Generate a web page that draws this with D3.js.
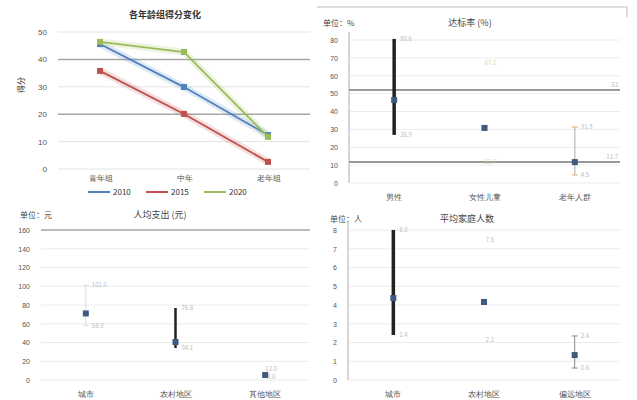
<!DOCTYPE html>
<html>
<head>
<meta charset="utf-8">
<script src="https://cdn.jsdelivr.net/npm/d3@7"></script>
<style>
  body { margin: 0; background: #fff; }
  svg { font-family: "Noto Sans CJK SC", "Noto Sans", sans-serif; }
  .tick text { fill: #555; }
</style>
</head>
<body>
<svg id="chart" width="637" height="400"></svg>
<script>
// ---- 数据 ----
// 图1：三条折线
const ageGroups = ["青年组", "中年", "老年组"];
const lineYears = ["2010", "2015", "2020"];
const line2010 = [45.6, 29.9, 12.4];
const line2015 = [35.8, 20.1, 2.6];
const line2020 = [46.4, 42.7, 11.7];
const lineTicks = [0, 10, 20, 30, 40, 50];

// 图2：达标率 (%)
const rateCats = ["男性", "女性儿童", "老年人群"];
const rateMean = [46.4, 30.8, 11.7];
const rateLow = [26.9, 11.7, 4.5];
const rateHigh = [80.6, 67.1, 31.3];
const rateRefs = [52, 11.7];
const rateTicks = [0, 10, 20, 30, 40, 50, 60, 70, 80];

// 图3：人均支出 (元)
const costCats = ["城市", "农村地区", "其他地区"];
const costMean = [71, 40.5, 5.3];
const costLow = [58, 34.1, 3];
const costHigh = [101, 76.8, 12];
const costTicks = [0, 20, 40, 60, 80, 100, 120, 140, 160];

// 图4：平均人数
const numCats = ["城市", "农村地区", "偏远地区"];
const numMean = [4.37, 4.16, 1.33];
const numLow = [2.4, 2.13, 0.64];
const numHigh = [8.0, 7.47, 2.35];
const numTicks = [0, 1, 2, 3, 4, 5, 6, 7, 8];

const svg = d3.select("#chart");

// ---- 图1 折线图 ----
function drawLinePanel() {
    const g = svg.append("g");
    const x = d3.scalePoint().domain(ageGroups).range([58, 310]).padding(0.5);
    const y = d3.scaleLinear().domain([0, 50]).range([169, 32]);

    g.append("g").selectAll("line").data(lineTicks).enter().append("line")
        .attr("x1", 58).attr("x2", 310)
        .attr("y1", d => y(d)).attr("y2", d => y(d))
        .attr("stroke", d => (d === 20 || d === 40) ? "#a6a6a6" : "#e4e4e4")
        .attr("stroke-width", d => (d === 20 || d === 40) ? 1.5 : 1);

    g.append("g").attr("transform", "translate(50,0)")
        .call(d3.axisLeft(y).tickValues(lineTicks).tickSize(0))
        .call(a => a.select(".domain").remove())
        .selectAll("text").style("font-size", "8px");

    g.append("g").attr("transform", "translate(0,172)")
        .call(d3.axisBottom(x).tickSize(0))
        .call(a => a.select(".domain").remove())
        .selectAll("text").style("font-size", "8px");

    g.append("text").attr("x", 165).attr("y", 18).attr("text-anchor", "middle")
        .style("font-size", "9px").style("font-weight", "bold").attr("fill", "#333")
        .text("各年龄组得分变化");

    g.append("text").attr("transform", "translate(24,85) rotate(-90)")
        .attr("text-anchor", "middle").style("font-size", "8px").attr("fill", "#333")
        .text("得分");

    const series = [
        { name: lineYears[0], values: line2010, color: "#4f81bd" },
        { name: lineYears[1], values: line2015, color: "#c0504d" },
        { name: lineYears[2], values: line2020, color: "#9bbb59" }
    ];
    const line = d3.line().x((d, i) => x(ageGroups[i])).y(d => y(d));

    series.forEach(s => {
        g.append("path").attr("d", line(s.values)).attr("fill", "none")
            .attr("stroke", s.color).attr("stroke-opacity", 0.18).attr("stroke-width", 7);
        g.append("path").attr("d", line(s.values)).attr("fill", "none")
            .attr("stroke", s.color).attr("stroke-width", 1.8);
        g.selectAll(null).data(s.values).enter().append("rect")
            .attr("x", (d, i) => x(ageGroups[i]) - 3).attr("y", d => y(d) - 3)
            .attr("width", 6).attr("height", 6).attr("fill", s.color);
    });

    // 图例
    const leg = g.append("g").attr("transform", "translate(88,192)");
    series.forEach((s, i) => {
        const item = leg.append("g").attr("transform", `translate(${i * 58},0)`);
        item.append("line").attr("x1", 0).attr("x2", 22).attr("stroke", s.color).attr("stroke-width", 2);
        item.append("text").attr("x", 25).attr("y", 3).style("font-size", "8px").attr("fill", "#333").text(s.name);
    });
}

// ---- 范围图通用 ----
function drawRangePanel(opt) {
    const g = svg.append("g");
    const x = d3.scaleBand().domain(opt.cats).range([opt.left, opt.right]);
    const y = d3.scaleLinear().domain(opt.domain).range([opt.bottom, opt.top]);
    const cx = c => x(c) + x.bandwidth() / 2;

    g.append("g").selectAll("line").data(opt.ticks).enter().append("line")
        .attr("x1", opt.left).attr("x2", opt.right)
        .attr("y1", d => y(d)).attr("y2", d => y(d))
        .attr("stroke", d => d === opt.darkTick ? "#a6a6a6" : "#ececec")
        .attr("stroke-width", d => d === opt.darkTick ? 1.5 : 1);

    if (opt.axisLine) {
        g.append("line").attr("x1", opt.left).attr("x2", opt.left)
            .attr("y1", opt.top - 8).attr("y2", opt.bottom)
            .attr("stroke", "#c8c8c8").attr("stroke-width", 1.5);
    }

    g.append("g").attr("transform", `translate(${opt.left - 8},0)`)
        .call(d3.axisLeft(y).tickValues(opt.ticks).tickSize(0))
        .call(a => a.select(".domain").remove())
        .selectAll("text").style("font-size", "7px");

    g.append("g").attr("transform", `translate(0,${opt.bottom + 8})`)
        .call(d3.axisBottom(x).tickSize(0))
        .call(a => a.select(".domain").remove())
        .selectAll("text").style("font-size", "8px");

    g.append("text").attr("x", opt.unitX).attr("y", opt.titleY)
        .style("font-size", "8px").attr("fill", "#444").text(opt.unit);
    g.append("text").attr("x", opt.titleX).attr("y", opt.titleY).attr("text-anchor", "middle")
        .style("font-size", "9px").attr("fill", "#444").text(opt.title);

    // 参考线
    (opt.refs || []).forEach(r => {
        g.append("line").attr("x1", opt.left).attr("x2", opt.right)
            .attr("y1", y(r)).attr("y2", y(r)).attr("stroke", "#999").attr("stroke-width", 2);
        g.append("text").attr("x", opt.right - 2).attr("y", y(r) - 3).attr("text-anchor", "end")
            .style("font-size", "6px").attr("fill", "#bbb").text(r);
    });

    opt.cats.forEach((c, i) => {
        const style = opt.styles[i];
        if (style.stroke) {
            g.append("line").attr("x1", cx(c)).attr("x2", cx(c))
                .attr("y1", y(opt.low[i])).attr("y2", y(opt.high[i]))
                .attr("stroke", style.stroke).attr("stroke-width", style.width);
            if (style.caps) {
                [opt.low[i], opt.high[i]].forEach(v => {
                    g.append("line").attr("x1", cx(c) - 3).attr("x2", cx(c) + 3)
                        .attr("y1", y(v)).attr("y2", y(v))
                        .attr("stroke", style.capColor || style.stroke).attr("stroke-width", 1);
                });
            }
        }
        [opt.low[i], opt.high[i]].forEach(v => {
            g.append("text").attr("x", cx(c) + (style.labelDx || 6)).attr("y", y(v) + 2)
                .attr("text-anchor", style.labelDx === 0 ? "middle" : "start")
                .style("font-size", "6px").attr("fill", style.labelColor || "#bbb")
                .text(d3.format(".1f")(v));
        });
        g.append("rect").attr("x", cx(c) - 3).attr("y", y(opt.mean[i]) - 3)
            .attr("width", 6).attr("height", 6).attr("fill", "#3f5a7e");
    });
}

drawLinePanel();

drawRangePanel({
    cats: rateCats, mean: rateMean, low: rateLow, high: rateHigh, refs: rateRefs,
    ticks: rateTicks, domain: [0, 80], left: 349, right: 620, top: 40, bottom: 183,
    axisLine: true, unit: "单位：%", unitX: 323, title: "达标率 (%)", titleX: 470, titleY: 26,
    styles: [
        { stroke: "#222", width: 3.5 },
        { labelDx: 0, labelColor: "#ddd8a0" },
        { stroke: "#aaa", width: 1, caps: true, capColor: "#e6a86a" }
    ]
});
// 图2边框
svg.append("path").attr("d", "M317,7H627V17").attr("fill", "none").attr("stroke", "#bbb");

drawRangePanel({
    cats: costCats, mean: costMean, low: costLow, high: costHigh,
    ticks: costTicks, domain: [0, 160], left: 41, right: 310, top: 230, bottom: 380,
    darkTick: 160, axisLine: false, unit: "单位：元", unitX: 20, title: "人均支出 (元)", titleX: 160, titleY: 218,
    styles: [
        { stroke: "#ddd", width: 1, caps: true },
        { stroke: "#222", width: 2.5 },
        { labelDx: 0 }
    ]
});

drawRangePanel({
    cats: numCats, mean: numMean, low: numLow, high: numHigh,
    ticks: numTicks, domain: [0, 8], left: 348, right: 620, top: 230, bottom: 380,
    axisLine: true, unit: "单位：人", unitX: 330, title: "平均家庭人数", titleX: 467, titleY: 222,
    styles: [
        { stroke: "#222", width: 3.5 },
        { labelDx: 0 },
        { stroke: "#888", width: 1, caps: true }
    ]
});
</script>
</body>
</html>
